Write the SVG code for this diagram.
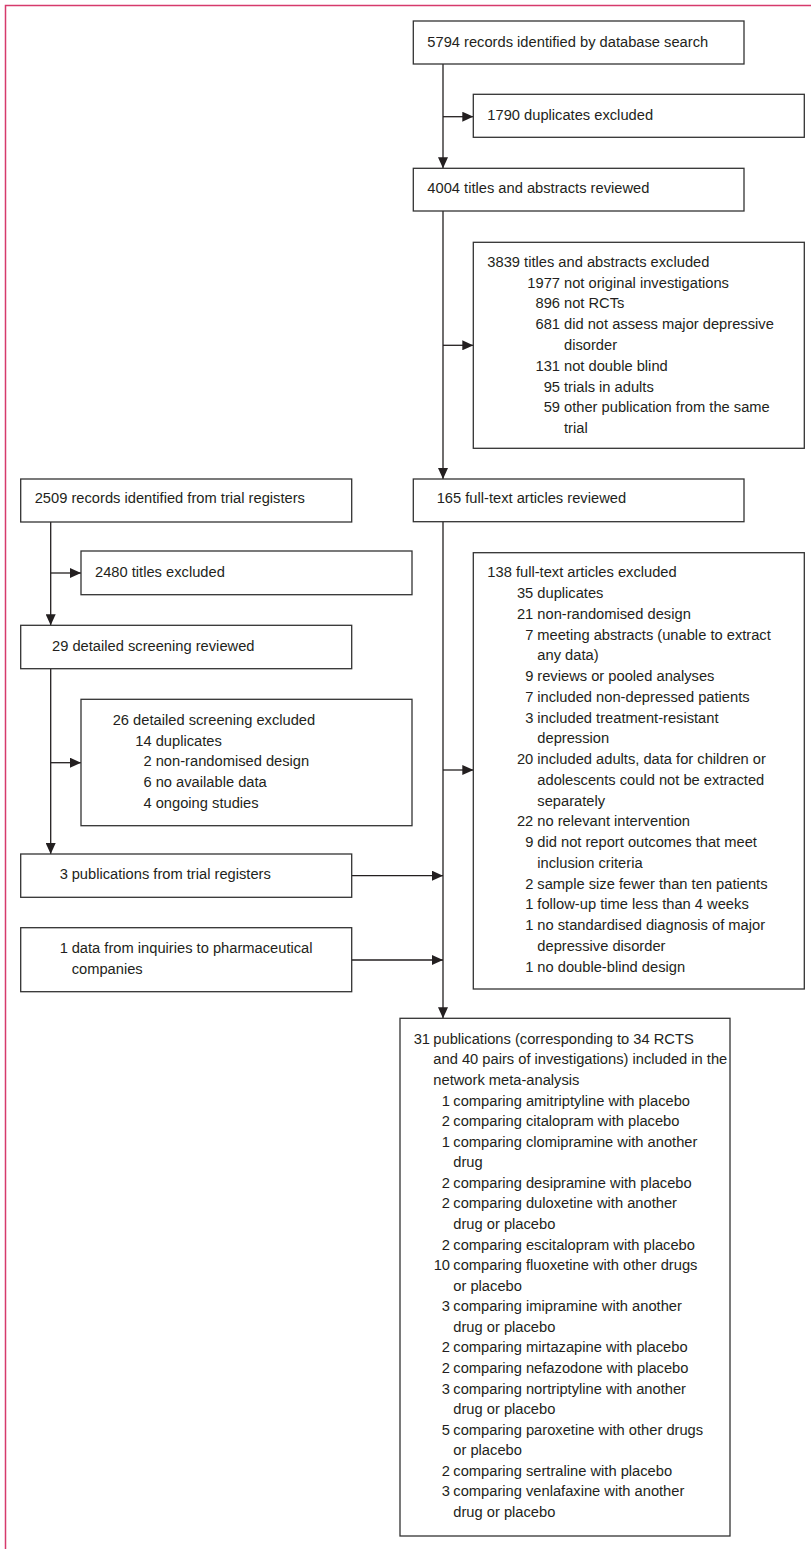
<svg xmlns="http://www.w3.org/2000/svg" width="811" height="1549" viewBox="0 0 811 1549">
<style>
.box{fill:#fff;stroke:#333;stroke-width:1.3}
.t{font-family:"Liberation Sans",Arial,sans-serif;font-size:14.7px;fill:#231f20}
.n{text-anchor:end}
.c{fill:none;stroke:#231f20;stroke-width:1.3}
</style>
<defs>
<marker id="ah" markerUnits="userSpaceOnUse" markerWidth="11" markerHeight="10" refX="11" refY="5" orient="auto">
<path d="M0,0 L11,5 L0,10 z" fill="#231f20"/>
</marker>
</defs>
<rect width="811" height="1549" fill="#fff"/>
<path d="M5.5,1549 V5.5 H811" fill="none" stroke="#d63a6c" stroke-width="1.5"/>

<g id="connectors">
<path class="c" d="M443,64 V168.3" marker-end="url(#ah)"/>
<path class="c" d="M443,116.7 H473.3" marker-end="url(#ah)"/>
<path class="c" d="M443,211 V479" marker-end="url(#ah)"/>
<path class="c" d="M443,345.3 H473.3" marker-end="url(#ah)"/>
<path class="c" d="M443,521.7 V1018.3" marker-end="url(#ah)"/>
<path class="c" d="M443,770 H473.3" marker-end="url(#ah)"/>
<path class="c" d="M351.7,875.7 H443" marker-end="url(#ah)"/>
<path class="c" d="M351.7,960 H443" marker-end="url(#ah)"/>
<path class="c" d="M50.7,522 V625.3" marker-end="url(#ah)"/>
<path class="c" d="M50.7,573 H81" marker-end="url(#ah)"/>
<path class="c" d="M50.7,668.7 V854" marker-end="url(#ah)"/>
<path class="c" d="M50.7,762.7 H81" marker-end="url(#ah)"/>
</g>

<g id="n5794">
<rect class="box" x="413.3" y="21" width="330.7" height="43"/>
<text class="t" x="427.3" y="46.7">5794 records identified by database search</text>
</g>
<g id="n1790">
<rect class="box" x="473.3" y="94.3" width="331" height="43"/>
<text class="t" x="487.3" y="120">1790 duplicates excluded</text>
</g>
<g id="n4004">
<rect class="box" x="413.3" y="168.3" width="330.7" height="42.7"/>
<text class="t" x="427.3" y="193.3">4004 titles and abstracts reviewed</text>
</g>
<g id="n3839">
<rect class="box" x="473.3" y="242.3" width="331" height="206"/>
<text class="t" x="487.3" y="266.7">3839 titles and abstracts excluded</text>
<text class="t n" x="560" y="287.5">1977</text><text class="t" x="564" y="287.5">not original investigations</text>
<text class="t n" x="560" y="308.3">896</text><text class="t" x="564" y="308.3">not RCTs</text>
<text class="t n" x="560" y="329.1">681</text><text class="t" x="564" y="329.1">did not assess major depressive</text>
<text class="t" x="564" y="349.9">disorder</text>
<text class="t n" x="560" y="370.7">131</text><text class="t" x="564" y="370.7">not double blind</text>
<text class="t n" x="560" y="391.5">95</text><text class="t" x="564" y="391.5">trials in adults</text>
<text class="t n" x="560" y="412.3">59</text><text class="t" x="564" y="412.3">other publication from the same</text>
<text class="t" x="564" y="433.1">trial</text>
</g>
<g id="n165">
<rect class="box" x="413.3" y="479" width="330.7" height="42.7"/>
<text class="t" x="436.7" y="503.3">165 full-text articles reviewed</text>
</g>
<g id="n2509">
<rect class="box" x="20.7" y="479" width="331" height="43"/>
<text class="t" x="34.7" y="503.3">2509 records identified from trial registers</text>
</g>
<g id="n2480">
<rect class="box" x="81" y="551" width="331" height="43.7"/>
<text class="t" x="95" y="576.7">2480 titles excluded</text>
</g>
<g id="n29">
<rect class="box" x="20.7" y="625.3" width="331" height="43.4"/>
<text class="t" x="52" y="650.7">29 detailed screening reviewed</text>
</g>
<g id="n26">
<rect class="box" x="81" y="699.3" width="331" height="126.4"/>
<text class="t" x="112.7" y="725">26 detailed screening excluded</text>
<text class="t n" x="151.7" y="745.7">14</text><text class="t" x="155.7" y="745.7">duplicates</text>
<text class="t n" x="151.7" y="766.4">2</text><text class="t" x="155.7" y="766.4">non-randomised design</text>
<text class="t n" x="151.7" y="787.1">6</text><text class="t" x="155.7" y="787.1">no available data</text>
<text class="t n" x="151.7" y="807.8">4</text><text class="t" x="155.7" y="807.8">ongoing studies</text>
</g>
<g id="n3pub">
<rect class="box" x="20.7" y="854" width="331" height="43.3"/>
<text class="t n" x="68" y="879.3">3</text><text class="t" x="71.7" y="879.3">publications from trial registers</text>
</g>
<g id="n1data">
<rect class="box" x="20.7" y="927.7" width="331" height="64"/>
<text class="t n" x="68" y="953.3">1</text><text class="t" x="71.7" y="953.3">data from inquiries to pharmaceutical</text>
<text class="t" x="71.7" y="974">companies</text>
</g>
<g id="n138">
<rect class="box" x="473.3" y="552.7" width="331" height="436.3"/>
<text class="t" x="487.3" y="577.3">138 full-text articles excluded</text>
<text class="t n" x="533.3" y="598.05">35</text><text class="t" x="537.3" y="598.05">duplicates</text>
<text class="t n" x="533.3" y="618.8">21</text><text class="t" x="537.3" y="618.8">non-randomised design</text>
<text class="t n" x="533.3" y="639.55">7</text><text class="t" x="537.3" y="639.55">meeting abstracts (unable to extract</text>
<text class="t" x="537.3" y="660.3">any data)</text>
<text class="t n" x="533.3" y="681.05">9</text><text class="t" x="537.3" y="681.05">reviews or pooled analyses</text>
<text class="t n" x="533.3" y="701.8">7</text><text class="t" x="537.3" y="701.8">included non-depressed patients</text>
<text class="t n" x="533.3" y="722.55">3</text><text class="t" x="537.3" y="722.55">included treatment-resistant</text>
<text class="t" x="537.3" y="743.3">depression</text>
<text class="t n" x="533.3" y="764.05">20</text><text class="t" x="537.3" y="764.05">included adults, data for children or</text>
<text class="t" x="537.3" y="784.8">adolescents could not be extracted</text>
<text class="t" x="537.3" y="805.55">separately</text>
<text class="t n" x="533.3" y="826.3">22</text><text class="t" x="537.3" y="826.3">no relevant intervention</text>
<text class="t n" x="533.3" y="847.05">9</text><text class="t" x="537.3" y="847.05">did not report outcomes that meet</text>
<text class="t" x="537.3" y="867.8">inclusion criteria</text>
<text class="t n" x="533.3" y="888.55">2</text><text class="t" x="537.3" y="888.55">sample size fewer than ten patients</text>
<text class="t n" x="533.3" y="909.3">1</text><text class="t" x="537.3" y="909.3">follow-up time less than 4 weeks</text>
<text class="t n" x="533.3" y="930.05">1</text><text class="t" x="537.3" y="930.05">no standardised diagnosis of major</text>
<text class="t" x="537.3" y="950.8">depressive disorder</text>
<text class="t n" x="533.3" y="971.55">1</text><text class="t" x="537.3" y="971.55">no double-blind design</text>
</g>
<g id="n31">
<rect class="box" x="400" y="1018.3" width="330" height="517.7"/>
<text class="t n" x="430" y="1043.8">31</text><text class="t" x="433.3" y="1043.8">publications (corresponding to 34 RCTS</text>
<text class="t" x="433.3" y="1064.4">and 40 pairs of investigations) included in the</text>
<text class="t" x="433.3" y="1084.9">network meta-analysis</text>
<text class="t n" x="450" y="1105.5">1</text><text class="t" x="453.3" y="1105.5">comparing amitriptyline with placebo</text>
<text class="t n" x="450" y="1126.1">2</text><text class="t" x="453.3" y="1126.1">comparing citalopram with placebo</text>
<text class="t n" x="450" y="1146.6">1</text><text class="t" x="453.3" y="1146.6">comparing clomipramine with another</text>
<text class="t" x="453.3" y="1167.2">drug</text>
<text class="t n" x="450" y="1187.8">2</text><text class="t" x="453.3" y="1187.8">comparing desipramine with placebo</text>
<text class="t n" x="450" y="1208.4">2</text><text class="t" x="453.3" y="1208.4">comparing duloxetine with another</text>
<text class="t" x="453.3" y="1228.9">drug or placebo</text>
<text class="t n" x="450" y="1249.5">2</text><text class="t" x="453.3" y="1249.5">comparing escitalopram with placebo</text>
<text class="t n" x="450" y="1270.1">10</text><text class="t" x="453.3" y="1270.1">comparing fluoxetine with other drugs</text>
<text class="t" x="453.3" y="1290.6">or placebo</text>
<text class="t n" x="450" y="1311.2">3</text><text class="t" x="453.3" y="1311.2">comparing imipramine with another</text>
<text class="t" x="453.3" y="1331.8">drug or placebo</text>
<text class="t n" x="450" y="1352.3">2</text><text class="t" x="453.3" y="1352.3">comparing mirtazapine with placebo</text>
<text class="t n" x="450" y="1372.9">2</text><text class="t" x="453.3" y="1372.9">comparing nefazodone with placebo</text>
<text class="t n" x="450" y="1393.5">3</text><text class="t" x="453.3" y="1393.5">comparing nortriptyline with another</text>
<text class="t" x="453.3" y="1414">drug or placebo</text>
<text class="t n" x="450" y="1434.6">5</text><text class="t" x="453.3" y="1434.6">comparing paroxetine with other drugs</text>
<text class="t" x="453.3" y="1455.2">or placebo</text>
<text class="t n" x="450" y="1475.7">2</text><text class="t" x="453.3" y="1475.7">comparing sertraline with placebo</text>
<text class="t n" x="450" y="1496.3">3</text><text class="t" x="453.3" y="1496.3">comparing venlafaxine with another</text>
<text class="t" x="453.3" y="1516.9">drug or placebo</text>
</g>
</svg>
